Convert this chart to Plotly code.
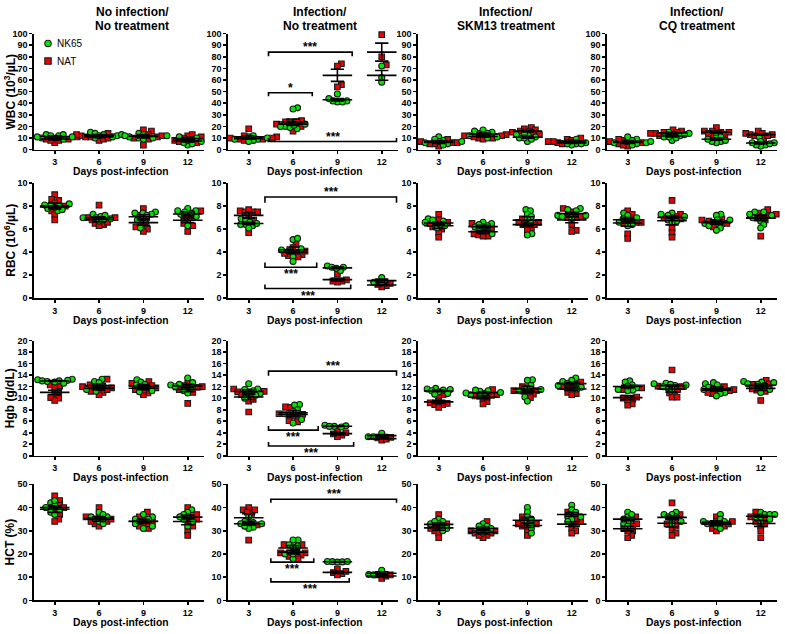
import numpy as np
import plotly.graph_objects as go

# ---------------- data ----------------
days = [3, 6, 9, 12]
col_titles = [("No infection/", "No treatment"), ("Infection/", "No treatment"),
              ("Infection/", "SKM13 treatment"), ("Infection/", "CQ treatment")]
row_titles = ["WBC (10<sup>3</sup>/µL)", "RBC (10<sup>6</sup>/µL)", "Hgb (g/dL)", "HCT (%)"]
row_max = [100, 10, 20, 50]
row_dtick = [10, 2, 2, 10]
x_title = "Days post-infection"
strains = ["NK65", "NAT"]

# values[col][day]
wbc_nk65 = [
    [[13, 12, 11, 10, 9, 12, 11, 13], [15, 13, 12, 11, 14, 10, 12, 13], [14, 12, 10, 9, 11, 13, 12, 10], [11, 4, 5, 6, 8, 9, 10, 7]],
    [[12, 11, 10, 9, 8, 7, 10, 9], [36, 35, 22, 20, 19, 18, 21, 20], [48, 44, 42, 41, 41, 42], [72, 62, 58]],
    [[11, 8, 7, 6, 5, 4, 7, 9], [17, 16, 15, 13, 12, 11, 14, 10], [12, 10, 7, 13, 11, 14, 10, 9], [5, 4, 6, 9, 6, 5, 7, 5]],
    [[11, 9, 6, 5, 4, 8, 7, 6], [15, 14, 11, 8, 12, 13, 11, 10], [14, 10, 7, 6, 8, 7, 9, 11], [11, 6, 4, 3, 5, 7, 4, 6]],
]
wbc_nat = [
    [[6, 8, 9, 10, 11, 9, 8, 12], [8, 9, 11, 12, 13, 10, 14, 11], [17, 16, 4, 11, 12, 10, 13, 9], [12, 6, 10, 9, 8, 11, 7, 13]],
    [[18, 11, 10, 9, 8, 12, 10, 9], [16, 20, 24, 25, 22, 24, 23], [74, 72, 56, 54], [99, 80, 73]],
    [[3, 5, 6, 8, 9, 7, 6, 5], [10, 9, 12, 14, 13, 11, 12, 10], [19, 18, 17, 16, 15, 14, 16, 13], [10, 9, 8, 6, 7, 5, 8, 7]],
    [[8, 7, 3, 5, 9, 6, 4, 7], [17, 16, 15, 14, 13, 12, 14, 15], [19, 16, 15, 13, 12, 16, 14, 15], [16, 14, 13, 12, 10, 13, 12, 14]],
]
rbc_nk65 = [
    [[8.2, 8.1, 7.8, 7.6, 8.0, 7.9, 8.1, 7.7], [7.3, 7.1, 7.0, 6.9, 6.8, 6.7, 7.2, 7.0], [7.5, 7.4, 7.3, 6.8, 6.1, 7.4, 7.2, 7.0], [7.8, 7.6, 7.5, 7.3, 6.3, 7.4, 7.1, 7.6]],
    [[6.9, 6.8, 6.6, 6.4, 6.4, 6.3, 6.1, 6.5], [5.1, 5.2, 4.3, 4.2, 4.0, 3.6, 3.2, 4.1], [2.8, 2.7, 2.7, 2.4, 2.6], [1.8, 1.4, 1.4]],
    [[6.9, 6.7, 6.6, 6.5, 6.3, 6.1, 6.8, 6.4], [6.6, 6.5, 6.3, 6.2, 5.6, 6.2, 6.0, 6.4], [7.7, 7.6, 7.3, 7.1, 6.6, 5.6, 5.5, 6.9], [7.8, 7.7, 7.6, 7.2, 7.2, 7.1, 7.0, 7.3]],
    [[7.4, 7.2, 7.0, 6.8, 6.6, 6.4, 6.3, 6.9], [7.4, 7.2, 7.0, 6.8, 6.7, 6.6, 7.1, 7.3], [7.3, 7.2, 6.8, 6.5, 6.3, 6.1, 5.9, 6.8], [7.5, 7.5, 7.2, 6.7, 6.4, 6.1, 7.0, 7.3]],
]
rbc_nat = [
    [[9.0, 8.5, 8.6, 8.3, 7.6, 7.3, 6.8, 8.0], [8.1, 7.0, 6.8, 6.5, 6.4, 6.3, 6.6, 7.0], [7.8, 7.2, 6.6, 6.3, 6.0, 5.8, 6.2, 6.7], [7.6, 7.0, 6.3, 5.8, 6.8, 7.2, 6.5, 7.0]],
    [[7.6, 7.5, 7.5, 7.5, 7.7, 6.8, 5.7, 7.3], [4.7, 4.4, 4.0, 3.8, 3.7, 3.6, 4.1, 3.9], [2.1, 1.6, 1.5, 1.4, 1.5], [1.3, 1.1, 1.0, 1.2]],
    [[7.3, 6.8, 6.6, 6.2, 6.0, 5.7, 5.3, 6.5], [6.5, 6.1, 5.6, 5.4, 5.5, 5.4, 5.9, 5.8], [6.9, 6.6, 6.4, 6.3, 6.1, 5.9, 6.6, 6.4], [7.8, 7.5, 7.0, 6.4, 5.9, 5.8, 7.1, 7.0]],
    [[7.6, 7.3, 6.6, 6.6, 5.6, 5.2, 6.5, 6.9], [8.5, 7.3, 7.1, 6.1, 5.7, 5.3, 6.9, 7.0], [6.8, 6.7, 6.6, 6.5, 6.4, 6.2, 6.9, 6.5], [7.7, 7.4, 7.3, 7.2, 6.8, 5.4, 7.0, 7.1]],
]
hgb_nk65 = [
    [[13.3, 13.2, 13.1, 13.0, 12.9, 12.6, 13.0, 12.8], [13.3, 12.9, 12.7, 12.0, 11.5, 11.2, 12.2, 11.8], [13.2, 12.8, 12.4, 12.3, 11.8, 11.3, 11.1, 12.0], [13.5, 12.7, 12.4, 12.3, 11.9, 11.3, 10.9, 12.0]],
    [[12.5, 11.6, 11.5, 11.3, 11.1, 10.8, 10.5, 10.0], [8.9, 8.8, 8.0, 7.7, 7.1, 6.3, 5.7, 7.3], [5.3, 5.2, 5.1, 5.1, 5.0], [3.9, 3.3, 3.3]],
    [[11.7, 11.6, 11.5, 11.4, 11.3, 11.1, 10.8, 10.7], [11.3, 11.2, 11.0, 10.8, 10.6, 10.4, 11.4, 10.9], [13.2, 13.1, 12.2, 11.5, 11.3, 10.2, 9.5, 11.8], [13.5, 13.1, 12.9, 12.4, 12.2, 11.9, 11.6, 12.6]],
    [[13.0, 12.8, 12.3, 11.8, 11.5, 11.4, 11.3, 12.1], [12.6, 12.5, 12.3, 12.2, 11.8, 11.6, 12.4, 12.0], [12.7, 12.5, 12.3, 11.0, 10.8, 10.4, 11.9, 11.5], [12.9, 12.8, 12.7, 12.4, 11.5, 11.0, 12.2, 12.5]],
]
hgb_nat = [
    [[12.3, 12.1, 12.0, 11.2, 10.8, 10.1, 10.0, 9.6], [13.3, 12.3, 11.8, 11.2, 11.0, 10.6, 11.5, 12.0], [12.9, 12.6, 11.5, 10.9, 10.6, 11.8, 12.2, 11.4], [12.6, 12.0, 11.9, 11.7, 11.0, 9.1, 11.5, 12.2]],
    [[11.6, 11.2, 11.1, 10.6, 9.5, 7.6, 10.3, 9.8], [8.5, 8.4, 7.3, 7.2, 6.9, 6.1, 5.9, 7.0], [4.5, 4.0, 3.6, 3.3, 3.8], [3.1, 2.7, 2.9, 3.2]],
    [[10.6, 10.3, 9.2, 9.1, 8.9, 8.9, 8.4, 9.5], [11.5, 10.6, 9.8, 9.4, 9.0, 10.5, 10.2, 10.4], [12.0, 11.4, 11.3, 10.8, 10.7, 10.1, 11.2, 11.3], [12.8, 12.3, 11.5, 11.0, 10.8, 10.6, 12.0, 11.8]],
    [[11.8, 11.5, 10.0, 9.8, 9.0, 8.8, 10.2, 9.7], [14.9, 12.1, 10.9, 10.9, 10.2, 10.2, 11.5, 12.0], [12.0, 11.8, 11.5, 11.2, 10.8, 11.0, 11.6, 11.3], [13.1, 12.5, 12.4, 11.4, 9.6, 11.8, 11.2, 11.6]],
]
hct_nk65 = [
    [[42, 41, 40, 39, 38, 37, 43, 40], [38, 36, 35, 34, 33, 36, 37, 35], [37, 36, 35, 34, 32, 31, 33, 35], [39, 38, 37, 36, 34, 32, 35, 36]],
    [[36, 34, 33.5, 33, 31.5, 31, 33, 32], [26, 26, 24, 23.5, 23, 20, 18, 20], [16.5, 16.8, 16.7, 16.6, 16.8], [13, 11.2, 11]],
    [[35, 34, 33, 32, 31, 30, 33, 34], [33, 32, 31, 30, 29, 31, 30, 32], [40, 38, 36, 34, 33, 31, 29, 35], [41, 39, 37, 36, 35, 34, 38, 36]],
    [[38, 36, 35, 34, 33, 32, 37, 35], [38, 37, 36, 35, 34, 33, 37, 36], [37, 35, 34, 33, 32, 31, 34, 33], [38, 37, 37, 36, 35, 34, 36, 37]],
]
hct_nat = [
    [[45, 43, 41, 39, 37, 35, 34, 40], [40, 36, 34, 33, 32, 35, 34, 36], [38, 35, 33, 32, 31, 34, 36, 33], [40, 36, 34, 32, 30, 28, 35, 37]],
    [[40, 39, 37.5, 38, 32.5, 26, 39, 33], [24, 24, 20.5, 19.5, 19, 18, 21, 20.5], [13.5, 12, 11.5, 11, 12.5], [11, 9.5, 10.5, 11]],
    [[37, 33, 31, 30, 29, 27, 32, 31], [34, 30, 29, 28, 27, 29, 30, 28], [36, 34, 33, 32, 30, 28, 33, 32], [38, 35, 33, 31, 30, 29, 34, 33]],
    [[36, 33, 31, 30, 28, 27, 32, 30], [42, 37, 33, 31, 29, 28, 34, 32], [36, 34, 33, 32, 31, 30, 33, 34], [38, 36, 34, 32, 30, 27, 33, 35]],
]
measures = [(wbc_nk65, wbc_nat), (rbc_nk65, rbc_nat), (hgb_nk65, hgb_nat), (hct_nk65, hct_nat)]

# significance brackets in the "Infection / No treatment" column: (from day, to day, level, tick, text, side)
brackets = [
    [(4.34, 7.3, 49, -3, "*", "above"), (4.34, 10.0, 84, -3.5, "***", "above"), (4.34, 13.0, 7, 3, "***", "above")],
    [(4.1, 13.0, 8.8, -0.5, "***", "above"), (4.1, 7.6, 2.7, 0.4, "***", "below"), (4.1, 9.9, 0.85, 0.35, "***", "below")],
    [(4.34, 13.0, 14.7, -0.8, "***", "above"), (4.34, 7.7, 4.45, 0.7, "***", "below"), (4.34, 10.1, 1.7, 0.7, "***", "below")],
    [(4.5, 13.0, 43.6, -1.5, "***", "above"), (4.5, 7.4, 16.5, 1.7, "***", "below"), (4.5, 9.8, 8, 1.7, "***", "below")],
]

# ---------------- layout geometry ----------------
W, H = 785, 634


def fx(p):  # page x pixel -> paper fraction
    return p / W


def fy(p):  # page y pixel -> paper fraction
    return 1 - p / H


col_px = [(34, 204), (228, 398), (418, 588), (607, 777)]
row_px = [(29, 147), (181, 298), (341, 458), (487, 605)]
XR = [1.6, 13.1]
FONT = "Liberation Sans, Arial, sans-serif"
GREEN, RED, EDGE = "#00e600", "#ee0000", "#1a1a1a"
MS = 5.6


def swarm(vals, ypx_per_unit, xpx_per_day, d=4.6):
    vals = np.asarray(vals, float)
    order = np.argsort(vals)
    placed = []
    offs = np.zeros(len(vals))
    cands = [0.0]
    for k in range(1, 80):
        cands += [k * 0.5, -k * 0.5]
    for i in order:
        y = vals[i] * ypx_per_unit
        cx = 0.0
        for cx in cands:
            ok = True
            for (px, py) in placed:
                if (px - cx) ** 2 + (py - y) ** 2 < d * d:
                    ok = False
                    break
            if ok:
                break
        placed.append((cx, y))
        offs[i] = cx / xpx_per_day
    return offs


fig = go.Figure()
layout = dict(width=W, height=H, margin=dict(l=0, r=0, t=0, b=0), autosize=False,
              paper_bgcolor="white", plot_bgcolor="white", showlegend=False, hovermode=False,
              font=dict(family=FONT, color="black"))
annotations = []
shapes = []

for r in range(4):
    for c in range(4):
        k = r * 4 + c + 1
        sfx = "" if k == 1 else str(k)
        xref, yref = "x" + sfx, "y" + sfx
        x0p, x1p = col_px[c]
        y0p, y1p = row_px[r]
        xpd = (x1p - x0p) / (XR[1] - XR[0])
        ypu = (y1p - y0p) / row_max[r]
        layout["xaxis" + sfx] = dict(
            domain=[fx(x0p), fx(x1p)], anchor=yref, range=XR, tickvals=days,
            ticktext=[str(d) for d in days], showline=True, linewidth=1.6, linecolor="black",
            ticks="outside", ticklen=3, tickwidth=1.6, tickcolor="black", showgrid=False,
            zeroline=False, tickfont=dict(size=9, weight="bold", family=FONT))
        layout["yaxis" + sfx] = dict(
            domain=[fy(y1p), fy(y0p)], anchor=xref, range=[0, row_max[r]],
            dtick=row_dtick[r], tick0=0, showline=True, linewidth=1.6, linecolor="black",
            ticks="outside", ticklen=3, tickwidth=1.6, tickcolor="black", showgrid=False,
            zeroline=False, tickfont=dict(size=9, weight="bold", family=FONT))

        nk, nat = measures[r][0][c], measures[r][1][c]
        gx, gy, rx, ry = [], [], [], []
        ex, ey = [], []
        for di, d in enumerate(days):
            a, b = nk[di], nat[di]
            offs = swarm(list(a) + list(b), ypu, xpd)
            gx += list(d + offs[:len(a)])
            gy += list(a)
            rx += list(d + offs[len(a):])
            ry += list(b)
            for grp in (a, b):
                arr = np.asarray(grp, float)
                m = arr.mean()
                sem = arr.std(ddof=1) / np.sqrt(len(arr))
                ex += [d - 1.0, d + 1.0, None, d, d, None, d - 0.45, d + 0.45, None, d - 0.45, d + 0.45, None]
                ey += [m, m, None, m - sem, m + sem, None, m - sem, m - sem, None, m + sem, m + sem, None]
        fig.add_trace(go.Scatter(x=rx, y=ry, mode="markers", xaxis=xref, yaxis=yref, cliponaxis=False,
                                 name="NAT", marker=dict(symbol="square", size=MS, color=RED,
                                                         line=dict(color=EDGE, width=1.1))))
        fig.add_trace(go.Scatter(x=gx, y=gy, mode="markers", xaxis=xref, yaxis=yref, cliponaxis=False,
                                 name="NK65", marker=dict(symbol="circle", size=MS + 0.4, color=GREEN,
                                                          line=dict(color=EDGE, width=1.1))))
        fig.add_trace(go.Scatter(x=ex, y=ey, mode="lines", xaxis=xref, yaxis=yref, cliponaxis=False,
                                 line=dict(color="black", width=1.6), hoverinfo="skip"))

        if c == 1:
            bx, by = [], []
            for (f, t, lv, tk, txt, side) in brackets[r]:
                bx += [f, f, t, t, None]
                by += [lv + tk, lv, lv, lv + tk, None]
                annotations.append(dict(
                    x=(f + t) / 2, y=lv, xref=xref, yref=yref, text=txt, showarrow=False,
                    yanchor="bottom" if side == "above" else "top",
                    yshift=-4 if side == "above" else 2,
                    font=dict(size=12, weight="bold", family=FONT)))
            fig.add_trace(go.Scatter(x=bx, y=by, mode="lines", xaxis=xref, yaxis=yref, cliponaxis=False,
                                     line=dict(color="black", width=1.6), hoverinfo="skip"))

        # x-axis title
        annotations.append(dict(x=7.5, xref=xref, y=fy(y1p + 22.5), yref="paper",
                                text=x_title, showarrow=False, yanchor="middle",
                                font=dict(size=10.3, weight="bold", family=FONT)))

# column titles
title_cx = [132, 320, 506, 697]
for c, (l1, l2) in enumerate(col_titles):
    for txt, yy in ((l1, 7), (l2, 21)):
        annotations.append(dict(x=fx(title_cx[c]), y=fy(yy), xref="paper", yref="paper",
                                text=txt, showarrow=False, xanchor="center", yanchor="middle",
                                font=dict(size=12, weight="bold", family=FONT)))

# row titles
for r, t in enumerate(row_titles):
    cy = (row_px[r][0] + row_px[r][1]) / 2
    annotations.append(dict(x=fx(10), y=fy(cy), xref="paper", yref="paper", text=t,
                            textangle=-90, showarrow=False, xanchor="center", yanchor="middle",
                            font=dict(size=12, weight="bold", family=FONT)))

# legend (manual)
leg = [(strains[0], 39, "circle", GREEN), (strains[1], 57, "square", RED)]
for name, yy, sym, col in leg:
    shapes.append(dict(type="circle" if sym == "circle" else "rect", xref="paper", yref="paper",
                       xsizemode="pixel", ysizemode="pixel", xanchor=fx(48), yanchor=fy(yy),
                       x0=-3.2, x1=3.2, y0=-3.2, y1=3.2, fillcolor=col, line=dict(color=EDGE, width=1.1)))
    annotations.append(dict(x=fx(55), y=fy(yy), xref="paper", yref="paper", text=name,
                            showarrow=False, xanchor="left", yanchor="middle",
                            font=dict(size=10, family=FONT)))

layout["annotations"] = annotations
layout["shapes"] = shapes
fig.update_layout(**layout)
fig.write_html("out.html", config={"displayModeBar": False, "staticPlot": True},
               post_script="document.body.style.margin='0px';document.body.style.overflow='hidden';")
